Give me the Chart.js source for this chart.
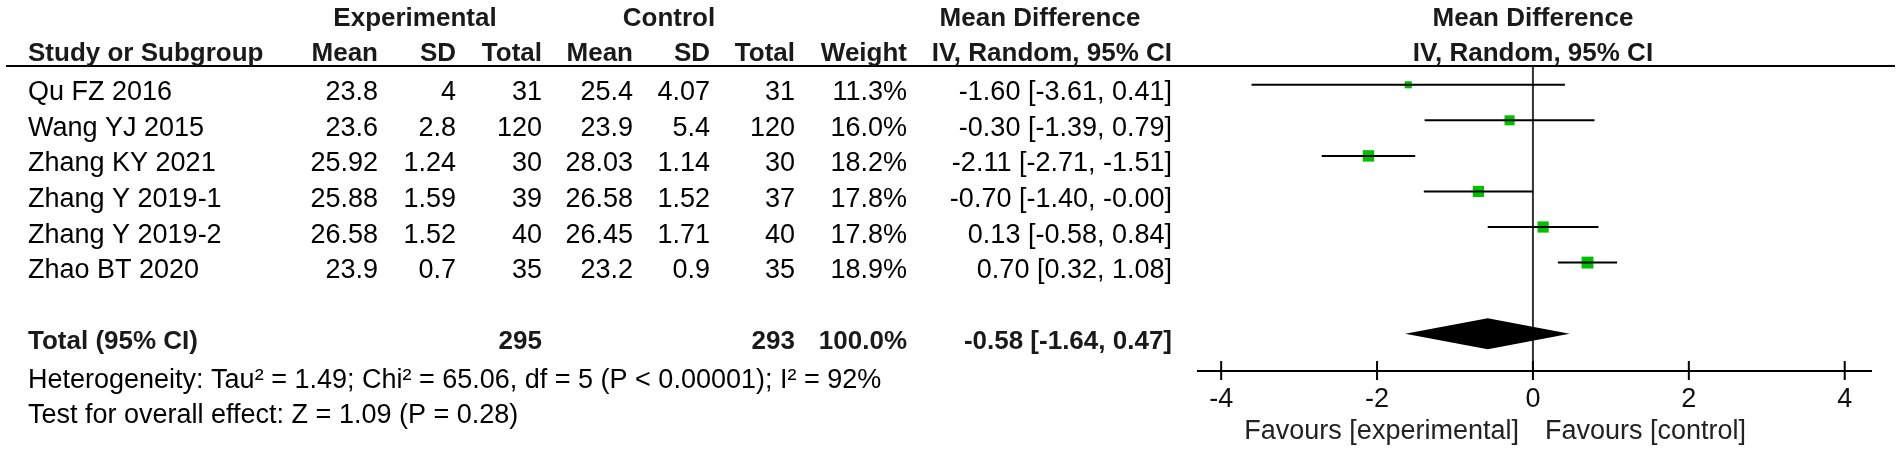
<!DOCTYPE html>
<html>
<head>
<meta charset="utf-8">
<script src="https://cdn.jsdelivr.net/npm/chart.js@4.4.1/dist/chart.umd.min.js"></script>
<style>
  html, body { margin: 0; padding: 0; background: #fff; }
  canvas { display: block; }
</style>
</head>
<body>
<canvas id="forest" width="1901" height="451"></canvas>
<script>
// study rows
var studies = ['Qu FZ 2016', 'Wang YJ 2015', 'Zhang KY 2021', 'Zhang Y 2019-1', 'Zhang Y 2019-2', 'Zhao BT 2020'];
var expMean = [23.8, 23.6, 25.92, 25.88, 26.58, 23.9];
var expSD = [4, 2.8, 1.24, 1.59, 1.52, 0.7];
var expN = [31, 120, 30, 39, 40, 35];
var ctlMean = [25.4, 23.9, 28.03, 26.58, 26.45, 23.2];
var ctlSD = [4.07, 5.4, 1.14, 1.52, 1.71, 0.9];
var ctlN = [31, 120, 30, 37, 40, 35];
var weights = [11.3, 16.0, 18.2, 17.8, 17.8, 18.9];
var md = [-1.60, -0.30, -2.11, -0.70, 0.13, 0.70];
var ciLow = [-3.61, -1.39, -2.71, -1.40, -0.58, 0.32];
var ciHigh = [0.41, 0.79, -1.51, -0.00, 0.84, 1.08];

// pooled result
var totalExpN = 295;
var totalCtlN = 293;
var totalWeight = 100.0;
var totalMd = -0.58;
var totalLow = -1.64;
var totalHigh = 0.47;
var totalRow = 7;

var xTicks = [-4, -2, 0, 2, 4];
var heterogeneity = 'Heterogeneity: Tau\u00b2 = 1.49; Chi\u00b2 = 65.06, df = 5 (P < 0.00001); I\u00b2 = 92%';
var overallTest = 'Test for overall effect: Z = 1.09 (P = 0.28)';
var favLeft = 'Favours [experimental]';
var favRight = 'Favours [control]';

function fmt2(v) {
    return (Object.is(v, -0) ? '-' : '') + v.toFixed(2);
}
function ciText(m, lo, hi) {
    return fmt2(m) + ' [' + fmt2(lo) + ', ' + fmt2(hi) + ']';
}

var FONT = '27px "Liberation Sans", Arial, sans-serif';
var BOLD = 'bold 26px "Liberation Sans", Arial, sans-serif';

function txt(ctx, s, x, y, align, bold, color) {
    ctx.font = bold ? BOLD : FONT;
    ctx.textAlign = align || 'left';
    ctx.textBaseline = 'alphabetic';
    ctx.fillStyle = color || (bold ? '#1a1a1a' : '#000');
    ctx.fillText(s, x, y);
}

// one line per confidence interval
var ciSets = studies.map(function (s, i) {
    return {
        label: s + ' CI',
        data: [{x: ciLow[i], y: i}, {x: ciHigh[i], y: i}],
        showLine: true,
        borderColor: '#000',
        borderWidth: 2,
        pointRadius: 0
    };
});

var forestPlugin = {
    id: 'forestPlugin',
    beforeDraw: function (chart) {
        var ctx = chart.ctx;
        ctx.save();
        ctx.fillStyle = '#fff';
        ctx.fillRect(0, 0, chart.width, chart.height);
        ctx.restore();
    },
    beforeDatasetsDraw: function (chart) {
        var ctx = chart.ctx, xs = chart.scales.x, a = chart.chartArea;
        var x0 = xs.getPixelForValue(0);
        ctx.save();
        // header rule
        ctx.strokeStyle = '#000';
        ctx.lineWidth = 2;
        ctx.beginPath();
        ctx.moveTo(6, 66);
        ctx.lineTo(1895, 66);
        ctx.stroke();
        // line of no effect
        ctx.strokeStyle = '#333';
        ctx.beginPath();
        ctx.moveTo(x0, a.top);
        ctx.lineTo(x0, a.bottom);
        ctx.stroke();
        // x axis
        ctx.strokeStyle = '#000';
        ctx.beginPath();
        ctx.moveTo(a.left, a.bottom);
        ctx.lineTo(a.right, a.bottom);
        ctx.stroke();
        xTicks.forEach(function (t) {
            var px = xs.getPixelForValue(t);
            ctx.beginPath();
            ctx.moveTo(px, a.bottom - 10);
            ctx.lineTo(px, a.bottom + 9);
            ctx.stroke();
            txt(ctx, String(t), px, a.bottom + 36, 'center', false, '#111');
        });
        txt(ctx, favLeft, x0 - 14, 439, 'right', false, '#222');
        txt(ctx, favRight, x0 + 12, 439, 'left', false, '#222');
        ctx.restore();
    },
    afterDatasetsDraw: function (chart) {
        var ctx = chart.ctx, xs = chart.scales.x, ys = chart.scales.y;
        var yc = ys.getPixelForValue(totalRow);
        ctx.save();
        ctx.fillStyle = '#000';
        ctx.beginPath();
        ctx.moveTo(xs.getPixelForValue(totalLow), yc);
        ctx.lineTo(xs.getPixelForValue(totalMd), yc - 15.5);
        ctx.lineTo(xs.getPixelForValue(totalHigh), yc);
        ctx.lineTo(xs.getPixelForValue(totalMd), yc + 15.5);
        ctx.closePath();
        ctx.fill();
        ctx.restore();
    },
    afterDraw: function (chart) {
        var ctx = chart.ctx, xs = chart.scales.x, ys = chart.scales.y;
        var x0 = xs.getPixelForValue(0);
        ctx.save();
        // headers
        txt(ctx, 'Experimental', 415, 26, 'center', true);
        txt(ctx, 'Control', 669, 26, 'center', true);
        txt(ctx, 'Mean Difference', 1040, 26, 'center', true);
        txt(ctx, 'Mean Difference', x0, 26, 'center', true);
        txt(ctx, 'Study or Subgroup', 28, 61, 'left', true);
        txt(ctx, 'Mean', 378, 61, 'right', true);
        txt(ctx, 'SD', 456, 61, 'right', true);
        txt(ctx, 'Total', 542, 61, 'right', true);
        txt(ctx, 'Mean', 633, 61, 'right', true);
        txt(ctx, 'SD', 710, 61, 'right', true);
        txt(ctx, 'Total', 795, 61, 'right', true);
        txt(ctx, 'Weight', 907, 61, 'right', true);
        txt(ctx, 'IV, Random, 95% CI', 1172, 61, 'right', true);
        txt(ctx, 'IV, Random, 95% CI', x0, 61, 'center', true);
        // study rows
        studies.forEach(function (s, i) {
            var y = ys.getPixelForValue(i) + 15.5;
            txt(ctx, s, 28, y, 'left');
            txt(ctx, String(expMean[i]), 378, y, 'right');
            txt(ctx, String(expSD[i]), 456, y, 'right');
            txt(ctx, String(expN[i]), 542, y, 'right');
            txt(ctx, String(ctlMean[i]), 633, y, 'right');
            txt(ctx, String(ctlSD[i]), 710, y, 'right');
            txt(ctx, String(ctlN[i]), 795, y, 'right');
            txt(ctx, weights[i].toFixed(1) + '%', 907, y, 'right');
            txt(ctx, ciText(md[i], ciLow[i], ciHigh[i]), 1172, y, 'right');
        });
        // pooled row
        var ty = ys.getPixelForValue(totalRow) + 15;
        txt(ctx, 'Total (95% CI)', 28, ty, 'left', true);
        txt(ctx, String(totalExpN), 542, ty, 'right', true);
        txt(ctx, String(totalCtlN), 795, ty, 'right', true);
        txt(ctx, totalWeight.toFixed(1) + '%', 907, ty, 'right', true);
        txt(ctx, ciText(totalMd, totalLow, totalHigh), 1172, ty, 'right', true);
        txt(ctx, heterogeneity, 28, 388, 'left');
        txt(ctx, overallTest, 28, 423, 'left');
        ctx.restore();
    }
};

var ctx = document.getElementById('forest').getContext('2d');
var chart = new Chart(ctx, {
    type: 'scatter',
    data: {
        datasets: ciSets.concat([{
            label: 'Mean difference',
            data: md.map(function (m, i) { return {x: m, y: i}; }),
            pointStyle: 'rect',
            pointRadius: weights.map(function (w) { return w * 0.445; }),
            backgroundColor: '#00c000',
            borderWidth: 0
        }])
    },
    options: {
        responsive: false,
        animation: false,
        devicePixelRatio: 1,
        layout: {
            padding: {left: 1197, right: 29, top: 67, bottom: 80}
        },
        scales: {
            x: {type: 'linear', min: -4.31, max: 4.35, display: false},
            y: {type: 'linear', min: -0.5, max: 8.05, reverse: true, display: false}
        },
        plugins: {
            legend: {display: false},
            tooltip: {enabled: false}
        }
    },
    plugins: [forestPlugin]
});
</script>
</body>
</html>
